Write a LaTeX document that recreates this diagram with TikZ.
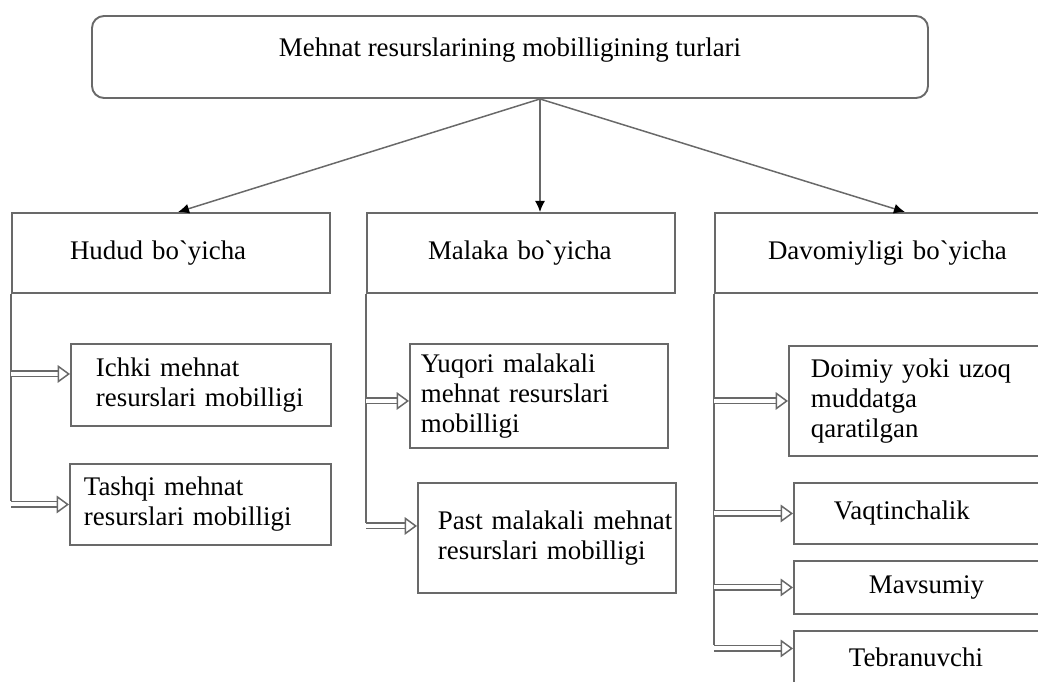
\documentclass[tikz,border=0pt]{standalone}
\usepackage{fontspec}
\setmainfont{Liberation Serif}[Ligatures=TeXOff]
\usetikzlibrary{arrows.meta}
\newdimen\pxu \pxu=0.02cm
\definecolor{linegray}{RGB}{105,105,105}

\begin{document}
\begin{tikzpicture}[x=0.02cm,y=-0.02cm,
        font=\fontsize{15.3pt}{17pt}\selectfont,
        box/.style={rectangle,draw=linegray,line width=1.1pt,inner sep=0pt},
        topbox/.style={box,rounded corners=12\pxu,minimum width=836\pxu,minimum height=82\pxu,text depth=19\pxu},
        headbox/.style={box,minimum height=80\pxu,align=left},
        cbox/.style={box,anchor=north west,align=left},
        toparrow/.style={draw=linegray,line width=0.85pt,-{Latex[black,length=6.3pt,width=5.7pt]}},
        trunk/.style={draw=linegray,line width=1.1pt},
        dblarrow/.style={draw=linegray,line width=0.85pt,double=white,double distance=2.3pt,
            -{Triangle[open,length=7pt,width=10pt]}}]
        \useasboundingbox (0,0) rectangle (1038,682);
        \clip (0,0) rectangle (1038,682);

        % main box
        \node[topbox] (types) at (510,57) {Mehnat resurslarining mobilligining turlari};
        \coordinate (hub) at ([xshift=30\pxu]types.south);

        % kinds
        \node[headbox,text width=318\pxu] (hudud) at (171,253) {\leftskip=58\pxu Hudud bo`yicha\par};
        \node[headbox,text width=308\pxu] (malaka) at (521,253) {\leftskip=61\pxu Malaka bo`yicha\par};
        \node[headbox,text width=340\pxu] (davom) at (885,253) {\leftskip=53\pxu Davomiyligi bo`yicha\par};

        \draw[toparrow] (hub) -- ([xshift=7\pxu]hudud.north);
        \draw[toparrow] (hub) -- (hub |- malaka.north);
        \draw[toparrow] (hub) -- ([xshift=20\pxu]davom.north);

        % by territory
        \node[cbox,text width=260\pxu,minimum height=82\pxu] (ichki) at (70,343)
            {\leftskip=25\pxu Ichki mehnat\\resurslari mobilligi\par};
        \node[cbox,text width=261\pxu,minimum height=81\pxu] (tashqi) at (69,463)
            {\leftskip=14\pxu Tashqi mehnat\\resurslari mobilligi\par};

        % by qualification
        \node[cbox,text width=258\pxu,minimum height=104\pxu] (yuqori) at (409,343)
            {\leftskip=11\pxu Yuqori malakali\\mehnat resurslari\\mobilligi\par};
        \node[cbox,text width=258\pxu,minimum height=110\pxu] (past) at (417,482)
            {\leftskip=20\pxu Past malakali mehnat\\resurslari mobilligi\par};

        % by duration
        \node[cbox,text width=272\pxu,minimum height=110\pxu] (doimiy) at (788,345)
            {\leftskip=22\pxu Doimiy yoki uzoq\\muddatga\\qaratilgan\par};
        \node[cbox,text width=267\pxu,minimum height=61\pxu] (vaqt) at (793,482)
            {\leftskip=40\pxu Vaqtinchalik\par};
        \node[cbox,text width=267\pxu,minimum height=53\pxu] (mavsum) at (793,560)
            {\leftskip=75\pxu Mavsumiy\par};
        \node[cbox,text width=267\pxu,minimum height=53\pxu] (tebran) at (793,630)
            {\leftskip=55\pxu Tebranuvchi\par};

        % trunks
        \draw[trunk] (hudud.south west) -- ([yshift=3\pxu]hudud.south west |- tashqi.west);
        \draw[trunk] (malaka.south west) -- ([yshift=15\pxu]malaka.south west |- past.west);
        \draw[trunk] (davom.south west) -- ([yshift=12\pxu]davom.south west |- tebran.west);

        % double arrows
        \draw[dblarrow] ([yshift=11\pxu]hudud.south west |- ichki.west) -- ([yshift=11\pxu]ichki.west);
        \draw[dblarrow] (hudud.south west |- tashqi.west) -- (tashqi.west);
        \draw[dblarrow] ([yshift=-5\pxu]malaka.south west |- yuqori.west) -- ([yshift=-5\pxu]yuqori.west);
        \draw[dblarrow] ([yshift=12\pxu]malaka.south west |- past.west) -- ([yshift=12\pxu]past.west);
        \draw[dblarrow] (davom.south west |- doimiy.west) -- (doimiy.west);
        \draw[dblarrow] (davom.south west |- vaqt.west) -- (vaqt.west);
        \draw[dblarrow] (davom.south west |- mavsum.west) -- (mavsum.west);
        \draw[dblarrow] ([yshift=9\pxu]davom.south west |- tebran.west) -- ([yshift=9\pxu]tebran.west);
\end{tikzpicture}
\end{document}
